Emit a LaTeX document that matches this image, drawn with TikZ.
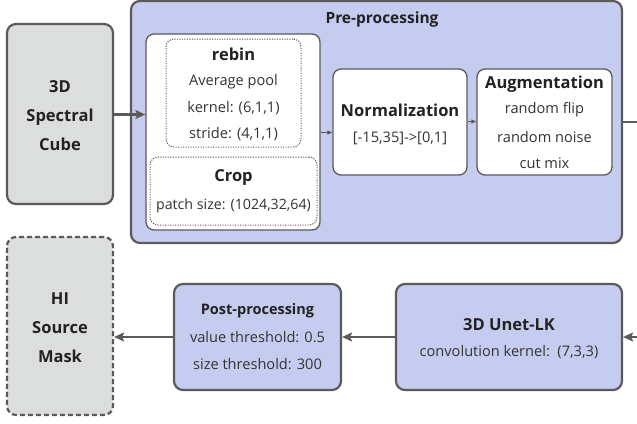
\documentclass[tikz,border=0pt]{standalone}
\usepackage{fontspec}
\setmainfont{Open Sans}
\usetikzlibrary{arrows.meta}
\definecolor{edge}{HTML}{5A5A5A}
\definecolor{bluefill}{HTML}{C6CCF0}
\definecolor{grayfill}{HTML}{DCDEDD}
\definecolor{ink}{HTML}{222222}
\definecolor{softink}{HTML}{333333}
\tikzset{
  x=1pt, y=-1pt,
  panel/.style={draw=edge, line width=2.2pt, rounded corners=9pt, inner sep=0pt},
  bluebox/.style={panel, fill=bluefill},
  graybox/.style={panel, fill=grayfill},
  whitebox/.style={draw=edge, line width=1.3pt, fill=white, rounded corners=8pt, inner sep=0pt},
  subbox/.style={draw=edge, line width=1pt, dash pattern=on 1.2pt off 1.3pt, rounded corners=8pt, inner sep=0pt},
  txt/.style={text=softink, inner sep=0pt, font=\fontsize{14.6}{17}\selectfont},
  head/.style={text=ink, inner sep=0pt, font=\bfseries\fontsize{16.5}{19}\selectfont},
  conn/.style={draw=edge, line width=2.2pt, -{Stealth[length=10pt,width=9pt,inset=2pt]}},
  tiny/.style={draw=edge, line width=1.1pt, -{Triangle[length=5pt,width=4pt]}},
}
\begin{document}
\begin{tikzpicture}
\useasboundingbox (0,0) rectangle (637,423);

% input cube
\node[graybox, minimum width=106pt, minimum height=180pt] (cube) at (60,114) {};
\node[head, align=center, font=\bfseries\fontsize{16.5}{29}\selectfont] at (60,116) {3D\\Spectral\\Cube};

% pre-processing frame
\node[bluebox, minimum width=491pt, minimum height=242pt] (pre) at (376.5,122) {};
\node[head, font=\bfseries\fontsize{15.5}{18}\selectfont] at (382,19) {Pre-processing};

% white panel holding rebin and crop
\node[whitebox, minimum width=174pt, minimum height=196pt] (rc) at (233,132) {};
\node[subbox, minimum width=135pt, minimum height=108pt] (rebin) at (233.5,93) {};
\node[head] at (233.5,54) {rebin};
\node[txt] at (233.5,82) {Average pool};
\node[txt] at (233.5,108) {kernel: (6,1,1)};
\node[txt] at (233.5,134) {stride: (4,1,1)};
\node[subbox, minimum width=167pt, minimum height=68pt] (crop) at (233.5,191) {};
\node[head] at (233.5,178) {Crop};
\node[txt, font=\fontsize{14.2}{17}\selectfont] at (233.5,206) {patch size: (1024,32,64)};

% normalization
\node[whitebox, minimum width=134pt, minimum height=106pt] (norm) at (400,122) {};
\node[head] at (400,110) {Normalization};
\node[txt] at (400,138) {[-15,35]->[0,1]};

% augmentation
\node[whitebox, minimum width=135pt, minimum height=106pt] (aug) at (544.5,122) {};
\node[head] at (544.5,84) {Augmentation};
\node[txt] at (544.5,110) {random flip};
\node[txt] at (544.5,137) {random noise};
\node[txt] at (544.5,163) {cut mix};

% output mask
\node[graybox, dashed, dash pattern=on 5pt off 3pt, minimum width=106pt, minimum height=178pt] (mask) at (60,326) {};
\node[head, align=center, font=\bfseries\fontsize{16.5}{29}\selectfont] at (60,328) {HI\\Source\\Mask};

% post-processing
\node[bluebox, minimum width=167pt, minimum height=106pt] (post) at (257.5,337) {};
\node[head, font=\bfseries\fontsize{14.5}{17}\selectfont] at (257.5,311) {Post-processing};
\node[txt] at (257.5,337) {value threshold: 0.5};
\node[txt] at (257.5,364) {size threshold: 300};

% network
\node[bluebox, minimum width=226pt, minimum height=106pt] (unet) at (509,337) {};
\node[head] at (509,325) {3D Unet-LK};
\node[txt] at (509,352) {convolution kernel:\ \ (7,3,3)};

% loose ends running past the right border
\coordinate (outR) at (637,122);
\coordinate (inR) at (637,337);

% connectors
\draw[conn] (cube.east |- 0,114.5) -- (rc.west |- 0,114.5);
\draw[tiny] (rc.east |- 0,132.5) -- (norm.west |- 0,132.5);
\draw[tiny] (norm.east |- 0,121.5) -- (aug.west |- 0,121.5);
\draw[draw=edge, line width=2.2pt] (pre.east |- 0,122) -- (outR);
\draw[conn] (inR) -- (unet.east |- 0,337);
\draw[conn] (unet.west |- 0,337) -- (post.east |- 0,337);
\draw[conn] (post.west |- 0,337) -- (mask.east |- 0,337);
\end{tikzpicture}
\end{document}
